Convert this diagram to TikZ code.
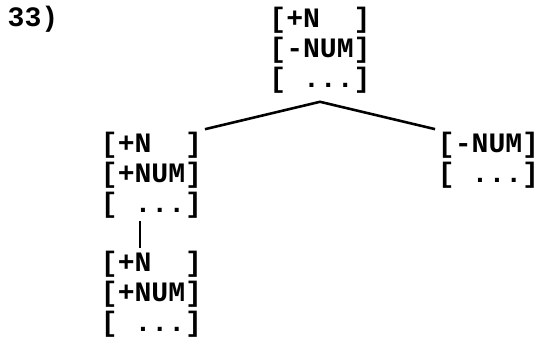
\documentclass[tikz,border=0pt]{standalone}
\usepackage{fontspec}
\setmonofont{Liberation Mono}
\usetikzlibrary{positioning}

\newcommand{\featgap}{\hphantom{M}}

\begin{document}
\begin{tikzpicture}[thick, x=0.03cm, y=-0.03cm,
  every node/.style={font=\ttfamily\bfseries\fontsize{24}{25.5}\selectfont, align=left, inner sep=2pt},
  branch/.style={line width=2.2pt}]

  \useasboundingbox (0,0) rectangle (540,339);

  % Example number
  \node (num) at (33,19) {33)};

  % Mother node
  \node (top) at (320,50) {[+N\featgap\featgap]\\{[}-NUM]\\{[}\featgap...]};

  % Daughters
  \node (lft) at (151.5,175) {[+N\featgap\featgap]\\{[}+NUM]\\{[}\featgap...]};
  \node (rgt) at (488.5,160) {[-NUM]\\{[}\featgap...]};

  % Unary daughter
  \node (bot) at (151.5,294) {[+N\featgap\featgap]\\{[}+NUM]\\{[}\featgap...]};

  % Branches
  \coordinate (apex) at ([yshift=-0.18cm]top.south);
  \draw[branch] (lft.north east) -- (apex) -- (rgt.north west);
  \draw[branch] ([xshift=1.26cm]lft.south west) -- ([xshift=1.26cm]lft.south west |- bot.north);

\end{tikzpicture}
\end{document}
